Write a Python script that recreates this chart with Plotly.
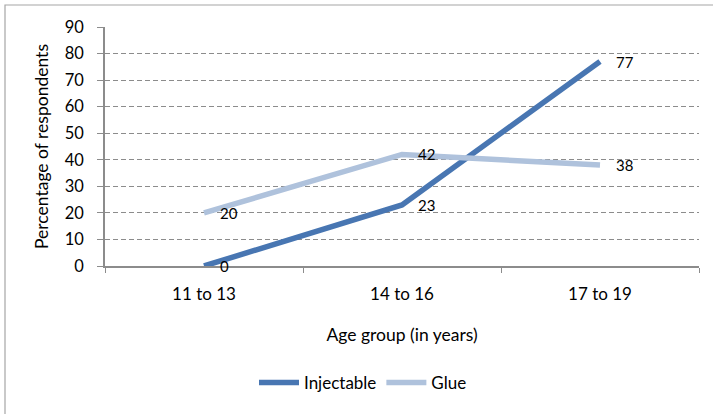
import plotly.graph_objects as go

categories = ["11 to 13", "14 to 16", "17 to 19"]
injectable = [0, 23, 77]
glue = [20, 42, 38]
y_ticks = [0, 10, 20, 30, 40, 50, 60, 70, 80, 90]

FONT = "Lato, 'Open Sans', sans-serif"
INJ_COLOR = "#4876B2"
GLUE_COLOR = "#AFC2DC"

fig = go.Figure()
fig.add_trace(go.Scatter(
    x=categories, y=injectable, name="Injectable", mode="lines",
    line=dict(color=INJ_COLOR, width=5.5),
))
fig.add_trace(go.Scatter(
    x=categories, y=glue, name="Glue", mode="lines",
    line=dict(color=GLUE_COLOR, width=5.5),
))

annotations = []
for series in (injectable, glue):
    for cat, val in zip(categories, series):
        annotations.append(dict(
            x=cat, y=val, xref="x", yref="y", text=str(val), showarrow=False,
            xanchor="left", yanchor="middle", xshift=14,
            font=dict(size=15, color="#000000", family=FONT),
        ))

fig.update_layout(
    width=713, height=414,
    margin=dict(l=105, r=14, t=27, b=148, autoexpand=False),
    paper_bgcolor="white", plot_bgcolor="white",
    font=dict(family=FONT, size=17, color="#000000"),
    showlegend=True,
    legend=dict(orientation="h", x=(363 - 105) / 594, xanchor="center",
                y=(266 - 383) / 239, yanchor="middle",
                font=dict(size=17), itemwidth=40, tracegroupgap=0),
    xaxis=dict(
        type="category", range=[-0.5, 2.5], tickson="boundaries",
        ticks="outside", ticklen=5, tickcolor="#8C8C8C",
        showline=True, linecolor="#8C8C8C", linewidth=1.5,
        showgrid=False, zeroline=False, automargin=False,
        ticklabelstandoff=12,
        title=dict(text="Age group (in years)", standoff=26, font=dict(size=17.5)),
        tickfont=dict(size=17),
    ),
    yaxis=dict(
        range=[0, 90], tickvals=y_ticks,
        ticks="outside", ticklen=6, tickcolor="#8C8C8C",
        showline=True, linecolor="#8C8C8C", linewidth=1.5,
        showgrid=True, gridcolor="#8C8C8C", griddash="5px,3px", gridwidth=1,
        zeroline=False, automargin=False,
        ticklabelstandoff=10,
        title=dict(text="Percentage of respondents", standoff=12, font=dict(size=17.5)),
        tickfont=dict(size=16.5),
    ),
    annotations=annotations,
    shapes=[dict(type="rect", xref="paper", yref="paper",
                 x0=(5 - 105) / 594, x1=(720 - 105) / 594,
                 y0=(266 - 420) / 239, y1=(266 - 5) / 239,
                 line=dict(color="#A6A6A6", width=1.2), layer="below")],
)

fig.write_html("out.html", config={"displayModeBar": False},
               post_script="document.body.style.margin='0';")
